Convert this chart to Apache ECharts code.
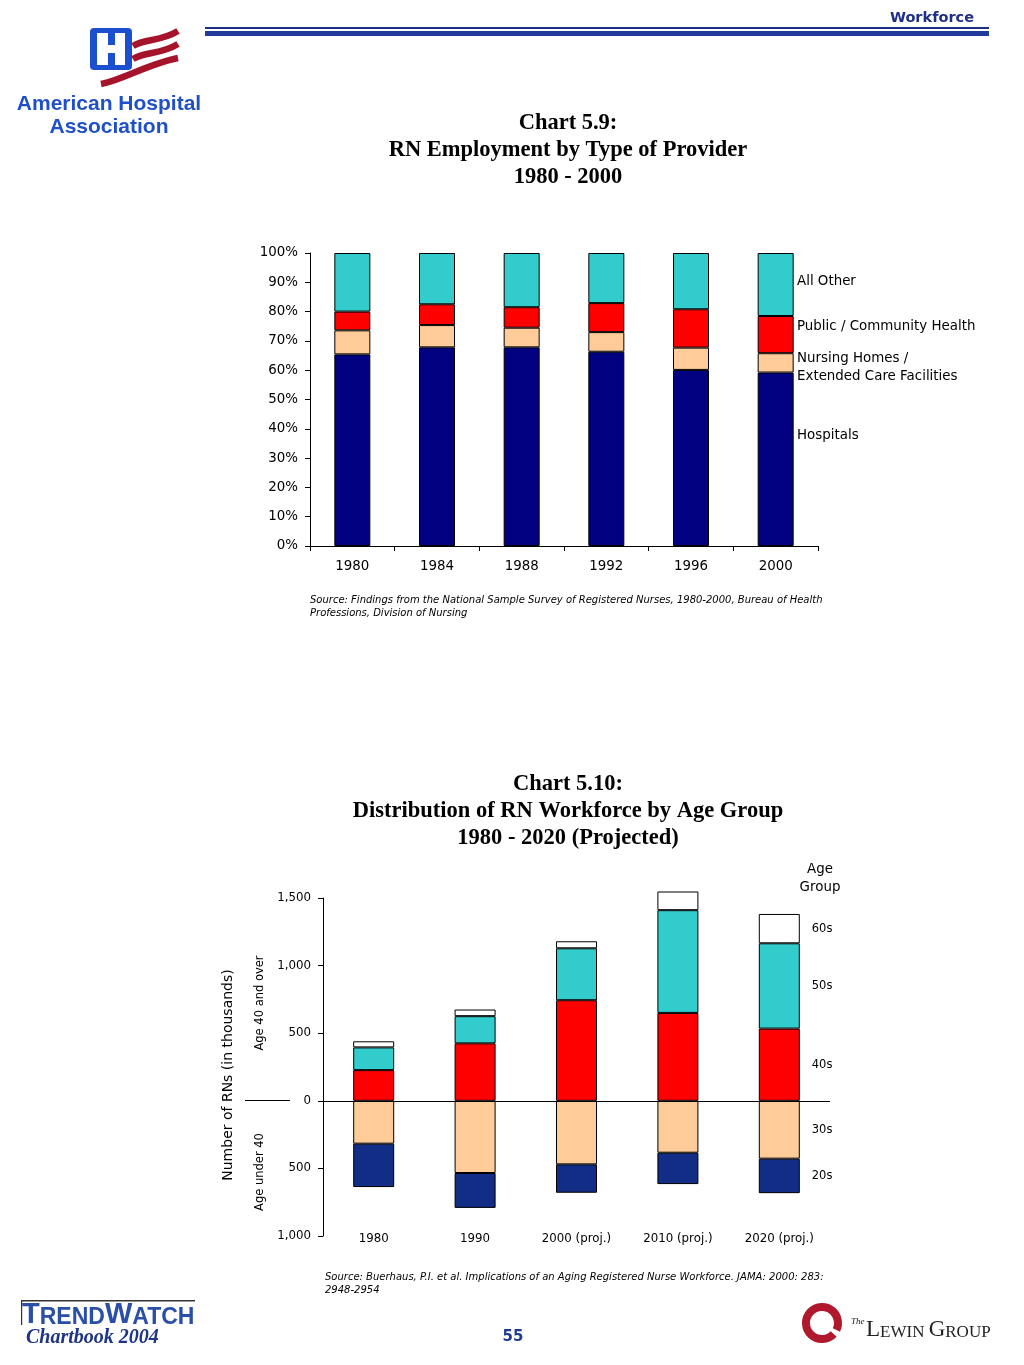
<!DOCTYPE html>
<html><head><meta charset="utf-8">
<script src="https://cdn.jsdelivr.net/npm/echarts@6/dist/echarts.min.js"></script>
<style>html,body{margin:0;padding:0;background:#fff}#c{width:1024px;height:1365px}</style>
</head><body><div id="c"></div>
<script>
// ---- Chart 5.9 data (percent of RN employment) ----
const years1 = ['1980', '1984', '1988', '1992', '1996', '2000'];
const hospitals = [65.4, 67.8, 67.8, 66.3, 60.1, 59.2];
const nursingHomes = [8.2, 7.6, 6.7, 6.7, 7.6, 6.6];
const publicHealth = [6.4, 7.1, 7.0, 9.9, 13.1, 12.7];
const allOther = [20.0, 17.5, 18.5, 17.1, 19.2, 21.5];

// ---- Chart 5.10 data (RNs, thousands) ----
const years2 = ['1980', '1990', '2000 (proj.)', '2010 (proj.)', '2020 (proj.)'];
const age20s = [321, 258, 210, 232, 255];
const age30s = [317, 534, 470, 384, 428];
const age40s = [227, 425, 744, 650, 534];
const age50s = [168, 201, 384, 760, 631];
const age60s = [45, 49, 52, 138, 217];

const F = '"DejaVu Sans", Verdana, sans-serif';
const SERIF = '"Liberation Serif", "Times New Roman", serif';
const SANS = '"Liberation Sans", Arial, sans-serif';
const BLUE = '#1F3A93';

function lastLabel(arr, neg) {
  return arr.map((v, i) => {
    const val = neg ? -v : v;
    return i === arr.length - 1 ? { value: val, label: { show: true } } : val;
  });
}

const bar1 = (name, data, color) => ({
  name, type: 'bar', stack: 'p', xAxisIndex: 0, yAxisIndex: 0, data,
  barWidth: 36,
  itemStyle: { color, borderColor: '#000', borderWidth: 1 }
});
const bar2 = (name, data, color) => ({
  name, type: 'bar', stack: 'a', xAxisIndex: 1, yAxisIndex: 1, data,
  barWidth: 41, clip: false,
  itemStyle: { color, borderColor: '#000', borderWidth: 1 },
  label: { show: false, position: 'right', distance: 12, formatter: '{a}', color: '#000', fontSize: 11.5, fontFamily: F }
});

const series = [
  bar1('Hospitals', hospitals, '#000080'),
  bar1('Nursing Homes', nursingHomes, '#FFCC99'),
  bar1('Public / Community Health', publicHealth, '#FF0000'),
  bar1('All Other', allOther, '#33CCCC'),
  Object.assign(bar2('30s', lastLabel(age30s, true), '#FFCC99'), {
    markLine: { silent: true, symbol: 'none', label: { show: false },
      lineStyle: { color: '#000', width: 1, type: 'solid' }, data: [{ yAxis: 0 }] }
  }),
  bar2('20s', lastLabel(age20s, true), '#112D86'),
  bar2('40s', lastLabel(age40s, false), '#FF0000'),
  bar2('50s', lastLabel(age50s, false), '#33CCCC'),
  bar2('60s', lastLabel(age60s, false), '#FFFFFF')
];

const txt = (x, y, text, font, extra) => ({
  type: 'text', x, y, silent: true,
  style: Object.assign({ text, font, fill: '#000', align: 'left', verticalAlign: 'middle' }, extra || {})
});
const stripe = (x1, y1, cx1, cy1, cx2, cy2, x2, y2) => ({
  type: 'bezierCurve', silent: true,
  shape: { x1, y1, cpx1: cx1, cpy1: cy1, cpx2: cx2, cpy2: cy2, x2, y2 },
  style: { stroke: '#A5142A', lineWidth: 6.5, fill: null }
});

const graphic = [
  // header
  txt(974, 18, 'Workforce', 'bold 14.5px ' + F, { align: 'right', fill: '#1F2F86' }),
  { type: 'rect', silent: true, shape: { x: 205, y: 27, width: 784, height: 2 }, style: { fill: '#1F2F86' } },
  { type: 'rect', silent: true, shape: { x: 205, y: 31, width: 784, height: 5 }, style: { fill: '#1F3A9A' } },
  // AHA logo
  { type: 'rect', silent: true, shape: { x: 90, y: 28, width: 42, height: 42, r: 4 }, style: { fill: '#1A4FD0' } },
  { type: 'rect', silent: true, shape: { x: 97, y: 33, width: 11, height: 32 }, style: { fill: '#fff' } },
  { type: 'rect', silent: true, shape: { x: 115, y: 33, width: 10, height: 32 }, style: { fill: '#fff' } },
  { type: 'rect', silent: true, shape: { x: 97, y: 45, width: 28, height: 8 }, style: { fill: '#fff' } },
  stripe(133, 46, 146, 38, 160, 42, 178, 31),
  stripe(133, 59, 146, 51, 160, 55, 178, 44),
  stripe(101, 84, 122, 80, 148, 64, 178, 58),
  txt(109, 104, 'American Hospital', 'bold 21px ' + SANS, { align: 'center', fill: '#2050C8' }),
  txt(109, 127, 'Association', 'bold 21px ' + SANS, { align: 'center', fill: '#2050C8' }),
  // chart 5.9 titles
  txt(568, 123, 'Chart 5.9:', 'bold 22.5px ' + SERIF, { align: 'center' }),
  txt(568, 150, 'RN Employment by Type of Provider', 'bold 22.5px ' + SERIF, { align: 'center' }),
  txt(568, 177, '1980 - 2000', 'bold 22.5px ' + SERIF, { align: 'center' }),
  // chart 5.9 right labels
  txt(797, 282, 'All Other', '13.4px ' + F),
  txt(797, 327, 'Public / Community Health', '13.4px ' + F),
  txt(797, 359, 'Nursing Homes /', '13.4px ' + F),
  txt(797, 377, 'Extended Care Facilities', '13.4px ' + F),
  txt(797, 436, 'Hospitals', '13.4px ' + F),
  // source 1
  txt(310, 600, 'Source: Findings from the National Sample Survey of Registered Nurses, 1980-2000, Bureau of Health', 'italic 10px ' + F),
  txt(310, 613, 'Professions, Division of Nursing', 'italic 10px ' + F),
  // chart 5.10 titles
  txt(568, 784, 'Chart 5.10:', 'bold 22.5px ' + SERIF, { align: 'center' }),
  txt(568, 811, 'Distribution of RN Workforce by Age Group', 'bold 22.5px ' + SERIF, { align: 'center' }),
  txt(568, 838, '1980 - 2020 (Projected)', 'bold 22.5px ' + SERIF, { align: 'center' }),
  txt(820, 870, 'Age', '13.4px ' + F, { align: 'center' }),
  txt(820, 888, 'Group', '13.4px ' + F, { align: 'center' }),
  { type: 'text', x: 228, y: 1075, rotation: Math.PI / 2, silent: true,
    style: { text: 'Number of RNs (in thousands)', font: '14px ' + F, fill: '#000', align: 'center', verticalAlign: 'middle' } },
  { type: 'text', x: 260, y: 1003, rotation: Math.PI / 2, silent: true,
    style: { text: 'Age 40 and over', font: '11.5px ' + F, fill: '#000', align: 'center', verticalAlign: 'middle' } },
  { type: 'text', x: 260, y: 1172, rotation: Math.PI / 2, silent: true,
    style: { text: 'Age under 40', font: '11.5px ' + F, fill: '#000', align: 'center', verticalAlign: 'middle' } },
  { type: 'line', silent: true, shape: { x1: 245, y1: 1100.5, x2: 290, y2: 1100.5 }, style: { stroke: '#000', lineWidth: 1 } },
  // source 2
  txt(325, 1277, 'Source: Buerhaus, P.I. et al. Implications of an Aging Registered Nurse Workforce. JAMA: 2000: 283:', 'italic 10px ' + F),
  txt(325, 1290, '2948-2954', 'italic 10px ' + F),
  // footer: TrendWatch
  { type: 'rect', silent: true, shape: { x: 21, y: 1300, width: 174, height: 1.5 }, style: { fill: '#333' } },
  { type: 'rect', silent: true, shape: { x: 21, y: 1300, width: 1.2, height: 25 }, style: { fill: '#333' } },
  { type: 'text', x: 22, y: 1315, silent: true, style: {
      text: '{b|T}{s|REND}{b|W}{s|ATCH}', verticalAlign: 'middle', align: 'left',
      rich: { b: { font: '900 29px ' + SANS, fill: '#2A4FA8', verticalAlign: 'bottom' },
              s: { font: '900 23px ' + SANS, fill: '#2A4FA8', verticalAlign: 'bottom' } } } },
  txt(26, 1338, 'Chartbook 2004', 'bold italic 20px ' + SERIF, { fill: '#1F3585' }),
  txt(513, 1337, '55', 'bold 15px ' + F, { align: 'center', fill: BLUE }),
  // footer: Lewin Group
  { type: 'arc', silent: true, shape: { cx: 822, cy: 1323, r: 16, startAngle: 0.75, endAngle: 0.45 + 2 * Math.PI, clockwise: true },
    style: { stroke: '#B0182E', lineWidth: 8, fill: null } },
  txt(851, 1322, 'The', 'italic 9px ' + SERIF, { fill: '#222' }),
  { type: 'text', x: 866, y: 1330, silent: true, style: {
      text: '{b|L}{s|EWIN }{b|G}{s|ROUP}', verticalAlign: 'middle', align: 'left',
      rich: { b: { font: '23px ' + SERIF, fill: '#222', verticalAlign: 'bottom' }, s: { font: '17px ' + SERIF, fill: '#222', verticalAlign: 'bottom' } } } }
];

const axisLineBlack = { show: true, lineStyle: { color: '#000', width: 1 } };

const option = {
  animation: false,
  backgroundColor: '#fff',
  grid: [
    { left: 310, top: 253, width: 508, height: 293, containLabel: false, outerBoundsMode: 'none' },
    { left: 323, top: 898, width: 507, height: 338, containLabel: false, outerBoundsMode: 'none' }
  ],
  xAxis: [
    { type: 'category', gridIndex: 0, data: years1,
      axisLine: axisLineBlack,
      axisTick: { show: true, inside: false, length: 5, lineStyle: { color: '#000' } },
      axisLabel: { color: '#000', fontSize: 13.4, fontFamily: F, margin: 14 },
      splitLine: { show: false } },
    { type: 'category', gridIndex: 1, data: years2, position: 'bottom',
      axisLine: { show: false, onZero: false },
      axisTick: { show: false },
      axisLabel: { color: '#000', fontSize: 11.8, fontFamily: F, margin: -3 },
      splitLine: { show: false } }
  ],
  yAxis: [
    { type: 'value', gridIndex: 0, min: 0, max: 100, interval: 10,
      axisLine: axisLineBlack,
      axisTick: { show: true, length: 5, lineStyle: { color: '#000' } },
      axisLabel: { color: '#000', fontSize: 13.4, fontFamily: F, margin: 12, formatter: '{value}%' },
      splitLine: { show: false } },
    { type: 'value', gridIndex: 1, min: -1000, max: 1500, interval: 500,
      axisLine: axisLineBlack,
      axisTick: { show: true, length: 5, lineStyle: { color: '#000' } },
      axisLabel: { color: '#000', fontSize: 11.8, fontFamily: F, margin: 12,
        formatter: v => Math.abs(v).toLocaleString('en-US') },
      splitLine: { show: false } }
  ],
  series,
  graphic
};

const chart = echarts.init(document.getElementById('c'), null, { renderer: 'canvas' });
chart.setOption(option);
</script>
</body></html>
